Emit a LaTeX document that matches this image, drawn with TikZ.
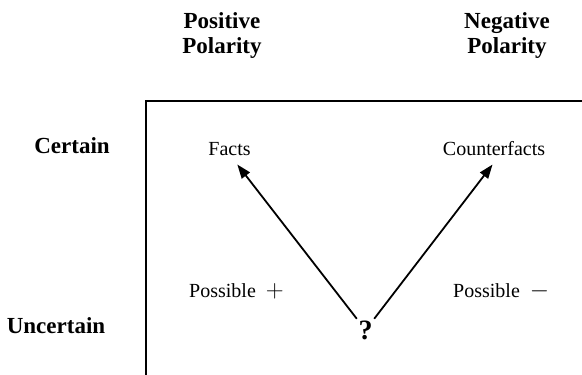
\documentclass[tikz,border=0pt]{standalone}
\usepackage{fontspec}
\setmainfont{Liberation Serif}
\usetikzlibrary{arrows.meta}
\begin{document}
\begin{tikzpicture}[x=1bp,y=-1bp,
  hdr/.style={font=\fontsize{23bp}{25bp}\selectfont\bfseries, align=center, inner sep=0pt, anchor=base},
  rowlab/.style={font=\fontsize{23bp}{25bp}\selectfont\bfseries, inner sep=0pt, anchor=base},
  cell/.style={font=\fontsize{20bp}{24bp}\selectfont, inner sep=2bp, anchor=base},
  qmark/.style={font=\fontsize{28bp}{28bp}\selectfont\bfseries, inner sep=1.5bp, anchor=base},
  arr/.style={line width=1.8bp, -{Triangle[length=14bp,width=10bp]}, shorten >=9bp},
  frame/.style={line width=1.8bp}
]
\useasboundingbox (0,0) rectangle (582,374);
% frame (open to the right and bottom)
\coordinate (ftr) at (600,101);
\coordinate (ftl) at (146,101);
\coordinate (fbl) at (146,400);
\draw[frame] (ftr) -- (ftl) -- (fbl);
% headers
\node[hdr] (pos) at (222,53) {Positive\\Polarity};
\node[hdr] (neg) at (507,53) {Negative\\Polarity};
\node[rowlab] (cert) at (72,153) {Certain};
\node[rowlab] (unc) at (56,333) {Uncertain};
% cells
\node[cell] (facts) at (229.5,155) {Facts};
\node[cell] (cfacts) at (494,155) {Counterfacts};
\node[cell, anchor=base west] (posp) at (187,297) {Possible\hspace{10bp}{\fontsize{25bp}{25bp}\selectfont $+$}};
\node[cell, anchor=base west] (posm) at (451,297) {Possible\hspace{10bp}{\fontsize{25bp}{25bp}\selectfont $-$}};
\node[qmark] (q) at (365.5,339) {?};
% arrows
\draw[arr] (q.north west) -- ([xshift=2.3bp]facts.south);
\draw[arr] (q.north east) -- ([xshift=4bp]cfacts.south);
\end{tikzpicture}
\end{document}
